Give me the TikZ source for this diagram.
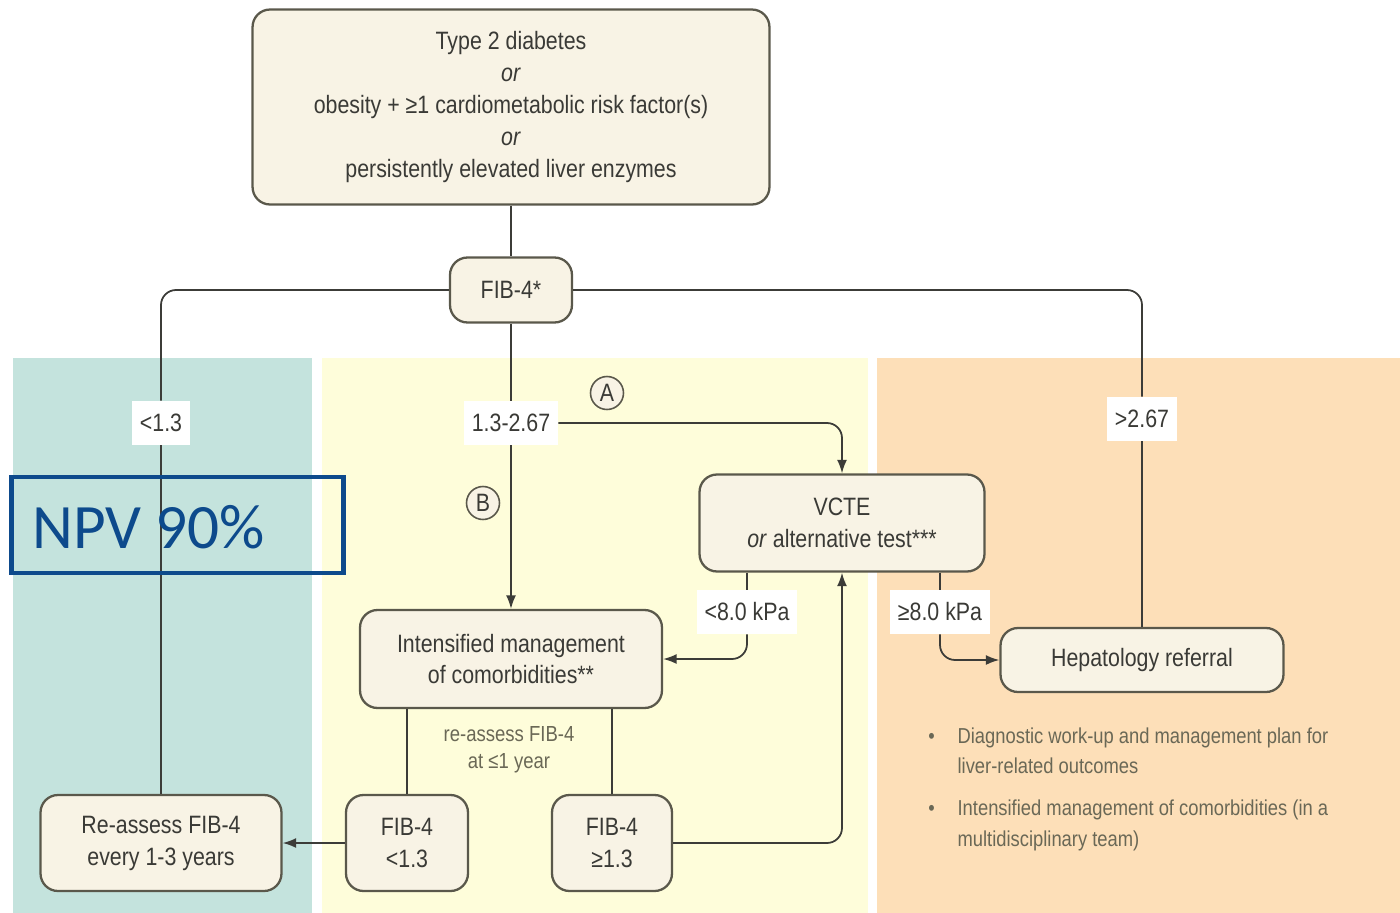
\documentclass[tikz,border=0pt]{standalone}
\usepackage{fontspec}
\setmainfont{Liberation Sans}[FakeStretch=0.85]
\newfontfamily\npvfont{Carlito}
\usetikzlibrary{arrows.meta,positioning}
\definecolor{tealbg}{HTML}{C4E3DD}
\definecolor{yellowbg}{HTML}{FEFDDA}
\definecolor{peachbg}{HTML}{FDDFB8}
\definecolor{boxfill}{HTML}{F8F3E5}
\definecolor{boxline}{HTML}{5A584B}
\definecolor{txt}{HTML}{3A3A36}
\definecolor{conncol}{HTML}{3C3C38}
\definecolor{notecol}{HTML}{6A6856}
\definecolor{npvblue}{HTML}{0D4A8C}
\newcommand\flowfont{\fontsize{14.3}{18.2}\selectfont}
\newcommand\notefont{\fontsize{12.3}{17.6}\selectfont}
\begin{document}
\begin{tikzpicture}[x=0.02cm,y=-0.02cm,
  box/.style={draw=boxline, line width=1.3pt, fill=boxfill, rounded corners=0.35cm,
    align=center, text=txt, font=\flowfont, inner sep=2pt},
  lab/.style={fill=white, text=txt, font=\flowfont, inner xsep=4.5pt, minimum height=0.88cm},
  conn/.style={draw=conncol, line width=1pt},
  arr/.style={conn, -{Latex[length=0.27cm,width=0.2cm]}},
  choice/.style={circle, draw=boxline, line width=0.9pt, fill=boxfill, text=txt,
    font=\flowfont, minimum size=0.66cm, inner sep=0pt}]
\useasboundingbox (0,0) rectangle (1400,913);
\fill[tealbg] (13,358) rectangle (312,913);
\fill[yellowbg] (322,358) rectangle (868,913);
\fill[peachbg] (877,358) rectangle (1400,913);

\node (start) [box, minimum width=10.34cm, minimum height=3.9cm] at (511,107)
  {Type 2 diabetes\\ \textit{or}\\ obesity + ≥1 cardiometabolic risk factor(s)\\ \textit{or}\\ persistently elevated liver enzymes};
\node (fib) [box, minimum width=2.44cm, minimum height=1.3cm] at (511,290) {FIB-4*};
\node (vcte) [box, minimum width=5.7cm, minimum height=1.94cm] at (842,523) {VCTE\\ \textit{or} alternative test***};
\node (intens) [box, minimum width=6.04cm, minimum height=1.96cm] at (511,659) {Intensified management\\ of comorbidities**};
\node (hep) [box, minimum width=5.66cm, minimum height=1.28cm] at (1142,660) {Hepatology referral};
\node (reas) [box, minimum width=4.82cm, minimum height=1.92cm] at (161,843) {Re-assess FIB-4\\ every 1-3 years};
\node (flow) [box, minimum width=2.44cm, minimum height=1.92cm] at (407,843) {FIB-4\\ <1.3};
\node (fhigh) [box, minimum width=2.4cm, minimum height=1.92cm] at (612,843) {FIB-4\\ ≥1.3};

\node (low) [lab] at (161,423) {<1.3};
\node (mid) [lab] at (511,423) {1.3-2.67};
\node (high) [lab] at (1142,419) {>2.67};
\node (kpalow) [lab] at (747,612) {<8.0 kPa};
\node (kpahigh) [lab] at (940,612) {≥8.0 kPa};
\node (ma) [choice] at (607,393) {A};
\node (mb) [choice] at (483,503) {B};
\node (recheck) [text=notecol, align=center, font=\fontsize{12.4}{15.3}\selectfont] at (509,750)
  {re-assess FIB-4\\ at ≤1 year};
\node (notes) [anchor=north west, text=notecol, font=\notefont, inner sep=0pt] at (928,721)
  {\begin{tabular}{@{}l@{\hspace{13pt}}l@{}}
   • & Diagnostic work-up and management plan for\\
     & liver-related outcomes\\[6pt]
   • & Intensified management of comorbidities (in a\\
     & multidisciplinary team)
   \end{tabular}};

\draw[conn] (start) -- (fib);
\draw[conn, rounded corners=0.3cm] (fib.west) -| (low.north);
\draw[conn] (low.south) -- (reas.north);
\draw[conn, rounded corners=0.3cm] (fib.east) -| (high.north);
\draw[conn] (high.south) -- (hep.north -| high);
\draw[conn] (fib) -- (mid);
\draw[arr] (mid) -- (intens);
\draw[arr, rounded corners=0.3cm] (mid.east) -| (vcte.north);
\draw[conn] (vcte.south -| kpalow) -- (kpalow.north);
\draw[arr, rounded corners=0.3cm] (kpalow.south) |- (intens.east);
\draw[conn] (vcte.south -| kpahigh) -- (kpahigh.north);
\draw[arr, rounded corners=0.3cm] (kpahigh.south) |- (hep.west);
\draw[conn] (intens.south -| flow) -- (flow.north);
\draw[conn] (intens.south -| fhigh) -- (fhigh.north);
\draw[arr] (flow.west) -- (reas.east);
\draw[arr, rounded corners=0.3cm] (fhigh.east) -| (vcte.south);

\node (npv) [draw=npvblue, line width=2.8pt, minimum width=6.64cm, minimum height=1.92cm] at (177.5,525) {};
\node (npvtxt) [anchor=west, text=npvblue, font=\npvfont\fontsize{36}{40}\selectfont, inner sep=0pt] at (32,527) {NPV 90\%};
\end{tikzpicture}
\end{document}
